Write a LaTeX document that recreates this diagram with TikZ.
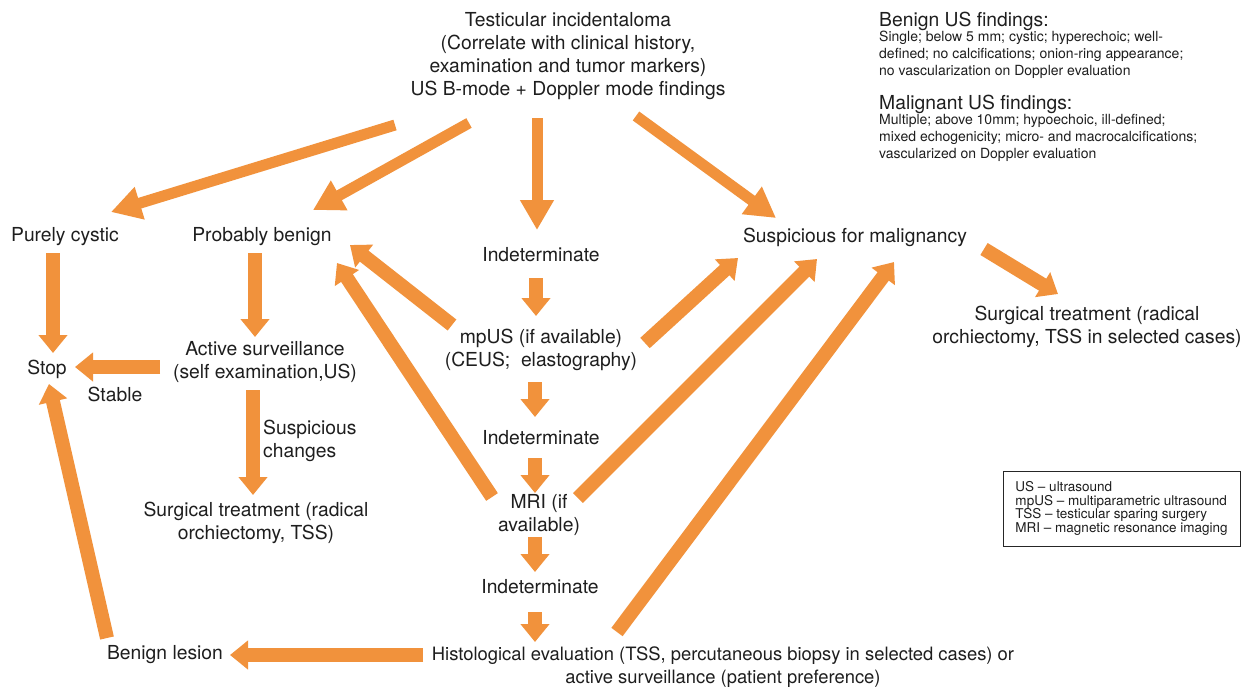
\documentclass[tikz,border=0pt]{standalone}
\usepackage{fontspec}
\setmainfont{TeX Gyre Heros}
\usetikzlibrary{arrows.meta}
\definecolor{arrorange}{RGB}{241,146,60}
\definecolor{txt}{RGB}{30,30,30}
\begin{document}
\begin{tikzpicture}[x=1pt,y=-1pt,
  every node/.style={inner sep=0pt, text=txt},
  main/.style={font=\fontsize{19.3}{23}\selectfont, align=center},
  small/.style={font=\fontsize{14}{16.8}\selectfont, align=left},
  legendtxt/.style={font=\fontsize{13.5}{13.4}\selectfont, align=left},
  bigarrow/.style={draw=arrorange, line width=11pt, -{Triangle[length=30pt,width=32pt]}},
  arrow/.style={draw=arrorange, line width=14pt, -{Triangle[length=18pt,width=28pt]}},
]
\fill[white] (0,0) rectangle (1248,689);
\useasboundingbox (0,0) rectangle (1248,689);

% ---------- nodes ----------
\node[main] (top) at (568,56) {Testicular incidentaloma\\(Correlate with clinical history,\\examination and tumor markers)\\US B-mode + Doppler mode findings};
\node[main] (cystic) at (65,237) {Purely cystic};
\node[main] (benign) at (262,237) {Probably benign};
\node[main] (indet1) at (541,255) {Indeterminate};
\node[main] (susp) at (855,237) {Suspicious for malignancy};
\node[main] (surgR) at (1087,327) {Surgical treatment (radical\\orchiectomy, TSS in selected cases)};
\node[main] (stop) at (47,369) {Stop};
\node[main] (stable) at (115,394) {Stable};
\node[main] (active) at (265,362) {Active surveillance\\(self examination,US)};
\node[main, align=left, anchor=west] (susch) at (263,441) {Suspicious\\changes};
\node[main] (surgL) at (256,523) {Surgical treatment (radical\\orchiectomy, TSS)};
\node[main] (mpus) at (541,350) {mpUS (if available)\\(CEUS;\ \ elastography)};
\node[main] (indet2) at (541,438) {Indeterminate};
\node[main] (mri) at (539,515) {MRI (if\\available)};
\node[main] (indet3) at (540,587) {Indeterminate};
\node[main, font=\fontsize{18.4}{22.5}\selectfont] (hist) at (723,667) {Histological evaluation (TSS, percutaneous biopsy in selected cases) or\\active surveillance (patient preference)};
\node[main] (lesion) at (165,655) {Benign lesion};

\node[main, anchor=west] (bhead) at (879,21) {Benign US findings:};
\node[small, anchor=west] (btext) at (879,55) {Single; below 5 mm; cystic; hyperechoic; well-\\defined; no calcifications; onion-ring appearance;\\no vascularization on Doppler evaluation};
\node[main, anchor=west] (mhead) at (879,104) {Malignant US findings:};
\node[small, anchor=west] (mtext) at (879,138) {Multiple; above 10mm; hypoechoic, ill-defined;\\mixed echogenicity; micro- and macrocalcifications;\\vascularized on Doppler evaluation};

\node[legendtxt, draw=black!85, line width=1pt, minimum width=237pt, minimum height=75pt] (legend) at (1121.5,508.5)
  {US -- ultrasound\\mpUS -- multiparametric ultrasound\\TSS -- testicular sparing surgery\\MRI -- magnetic resonance imaging};

% ---------- connector end points ----------
\coordinate (a1s) at (395,125);  \coordinate (a1e) at (111,212);
\coordinate (a2s) at (469,123);  \coordinate (a2e) at (313,210);
\coordinate (a3s) at (537,118);  \coordinate (a3e) at (537,230);
\coordinate (a4s) at (636,116);  \coordinate (a4e) at (776,218);
\coordinate (a5s) at (53,253);   \coordinate (a5e) at (53,353);
\coordinate (a6s) at (255,253);  \coordinate (a6e) at (255,337);
\coordinate (a7s) at (160,367);  \coordinate (a7e) at (75,367);
\coordinate (a8s) at (253,390);  \coordinate (a8e) at (253,495);
\coordinate (a9s) at (536,278);  \coordinate (a9e) at (536,316);
\coordinate (a10s) at (452,325); \coordinate (a10e) at (350,245);
\coordinate (a11s) at (645,343); \coordinate (a11e) at (738,258);
\coordinate (a12s) at (535,382); \coordinate (a12e) at (535,417);
\coordinate (a13s) at (535,458); \coordinate (a13e) at (535,493);
\coordinate (a14s) at (492,497); \coordinate (a14e) at (337,263);
\coordinate (a15s) at (578,498); \coordinate (a15e) at (817,259);
\coordinate (a16s) at (535,537); \coordinate (a16e) at (535,572);
\coordinate (a17s) at (535,612); \coordinate (a17e) at (535,642);
\coordinate (a18s) at (617,632); \coordinate (a18e) at (894,262);
\coordinate (a19s) at (423,655); \coordinate (a19e) at (230,655);
\coordinate (a20s) at (107,638); \coordinate (a20e) at (49,384);
\coordinate (a21s) at (984,249); \coordinate (a21e) at (1058,294);

% ---------- connectors ----------
\draw[bigarrow] (a1s) -- (a1e);
\draw[bigarrow] (a2s) -- (a2e);
\draw[bigarrow] (a3s) -- (a3e);
\draw[bigarrow] (a4s) -- (a4e);
\draw[arrow] (a5s) -- (a5e);
\draw[arrow] (a6s) -- (a6e);
\draw[arrow] (a7s) -- (a7e);
\draw[arrow] (a8s) -- (a8e);
\draw[arrow] (a9s) -- (a9e);
\draw[arrow] (a10s) -- (a10e);
\draw[arrow] (a11s) -- (a11e);
\draw[arrow] (a12s) -- (a12e);
\draw[arrow] (a13s) -- (a13e);
\draw[arrow] (a14s) -- (a14e);
\draw[arrow] (a15s) -- (a15e);
\draw[arrow] (a16s) -- (a16e);
\draw[arrow] (a17s) -- (a17e);
\draw[arrow] (a18s) -- (a18e);
\draw[arrow] (a19s) -- (a19e);
\draw[arrow] (a20s) -- (a20e);
\draw[arrow] (a21s) -- (a21e);
\end{tikzpicture}
\end{document}
